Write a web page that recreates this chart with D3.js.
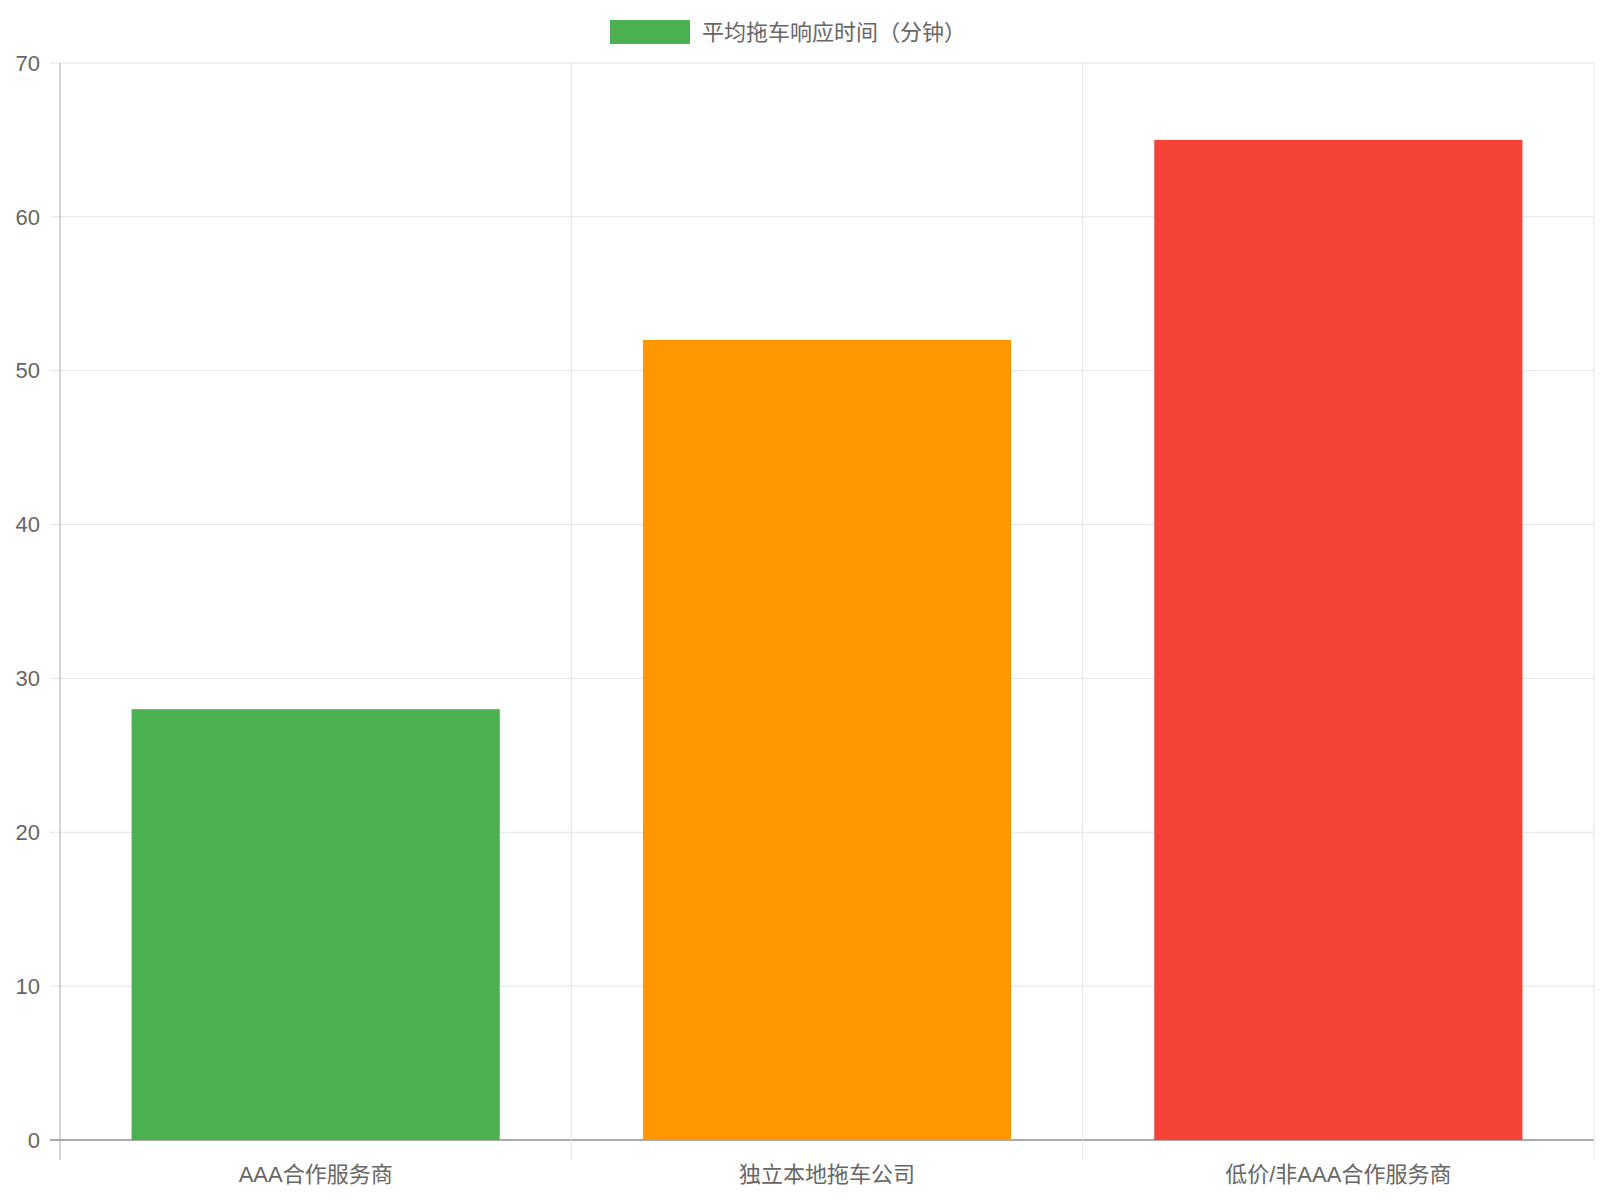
<!DOCTYPE html>
<html><head><meta charset="utf-8">
<script src="https://cdn.jsdelivr.net/npm/d3@7"></script>
<style>body{margin:0;background:#fff}text{font-family:"Liberation Sans","Noto Sans CJK SC",sans-serif;fill:#666}</style>
</head><body><svg id="c" width="1600" height="1200"></svg>
<script>
const categories = ["AAA合作服务商", "独立本地拖车公司", "低价/非AAA合作服务商"];
const values = [28, 52, 65];
const colors = ["#4caf50", "#ff9800", "#f44336"];
const yTicks = [0, 10, 20, 30, 40, 50, 60, 70];
const legendLabel = "平均拖车响应时间（分钟）";

const svg = d3.select("#c");
const m = {l: 60, r: 6, t: 63, b: 60};
const W = 1600, H = 1200;
const x = d3.scaleBand().domain(categories).range([m.l, W - m.r]).paddingInner(0).paddingOuter(0);
const y = d3.scaleLinear().domain([0, 70]).range([H - m.b, m.t]);

// gridlines
svg.append("g").selectAll("line").data(yTicks).join("line")
  .attr("x1", m.l - 10).attr("x2", W - m.r).attr("y1", d => y(d)).attr("y2", d => y(d))
  .attr("stroke", d => d === 0 ? "#aaa" : "#e4e4e4").attr("stroke-width", d => d === 0 ? 2 : 1);
const vx = categories.map(c => x(c)).concat([W - m.r]);
svg.append("g").selectAll("line").data(vx).join("line")
  .attr("x1", d => d).attr("x2", d => d).attr("y1", m.t).attr("y2", H - m.b + 20)
  .attr("stroke", (d, i) => i === 0 ? "#aaa" : "#e4e4e4");

// bars
const bw = x.bandwidth() * 0.72;
svg.append("g").selectAll("rect").data(values).join("rect")
  .attr("x", (d, i) => x(categories[i]) + (x.bandwidth() - bw) / 2)
  .attr("width", bw)
  .attr("y", d => y(d)).attr("height", d => y(0) - y(d))
  .attr("fill", (d, i) => colors[i]);

// y tick labels
svg.append("g").selectAll("text").data(yTicks).join("text")
  .attr("x", m.l - 20).attr("y", d => y(d)).attr("dy", "0.35em")
  .attr("text-anchor", "end").attr("font-size", 22).text(d => d);

// x labels
svg.append("g").selectAll("text").data(categories).join("text")
  .attr("x", d => x(d) + x.bandwidth() / 2).attr("y", H - m.b + 42)
  .attr("text-anchor", "middle").attr("font-size", 22).text(d => d);

// legend
svg.append("rect").attr("x", 610).attr("y", 20).attr("width", 80).attr("height", 24).attr("fill", colors[0]);
svg.append("text").attr("x", 702).attr("y", 32).attr("dy", "0.35em").attr("font-size", 22).text(legendLabel);
</script></body></html>
